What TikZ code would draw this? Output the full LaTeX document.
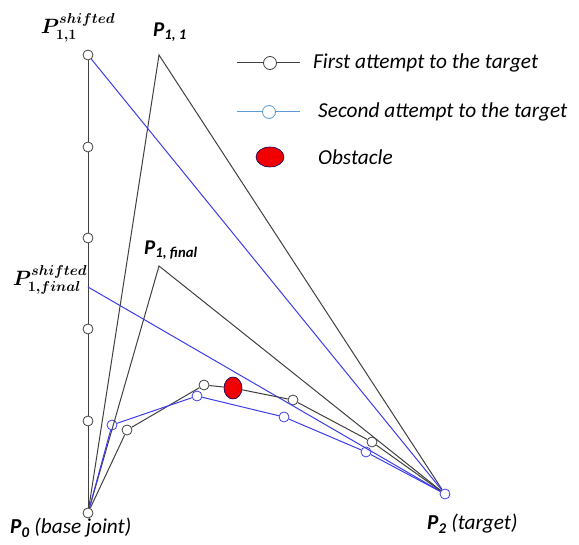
\documentclass[tikz,border=0pt]{standalone}
\usepackage{amsmath,bm}
\usepackage{fontspec}
\setmainfont{Carlito}
\usetikzlibrary{positioning,calc,shapes.geometric}
\definecolor{ArmGray}{RGB}{64,64,64}
\definecolor{ArmBlue}{RGB}{60,60,235}
\definecolor{KeyBlue}{RGB}{91,155,213}
\definecolor{ObsRed}{RGB}{240,0,0}
\tikzset{
	jnt/.style={circle,draw=ArmGray,fill=white,inner sep=0pt,minimum size=10pt,line width=0.8pt},
	bjnt/.style={jnt,draw=ArmBlue},
	first/.style={draw=ArmGray,line width=1pt},
	second/.style={draw=ArmBlue,line width=1pt},
	obst/.style={ellipse,draw=black!60!blue,fill=ObsRed,inner sep=0pt,line width=0.6pt},
	lbl/.style={font=\bfseries\itshape\fontsize{21}{24}\selectfont,inner sep=0pt},
	mlbl/.style={font=\fontsize{20}{22}\selectfont,inner sep=0pt},
	key/.style={font=\itshape\fontsize{21.3}{24}\selectfont,anchor=west,inner sep=0pt},
}

\begin{document}
\begin{tikzpicture}[x=1pt,y=-1pt]
	\useasboundingbox (0,0) rectangle (579,545);
	% joints and targets
	\coordinate (p11) at (159,55);
	\coordinate (p1f) at (159,266);
	\coordinate (p1fs) at (88,287);
	\node[jnt] (p0) at (88,513) {};
	\node[bjnt] (p2) at (445,494) {};
	\foreach \n/\y in {v1/421,v2/329,v3/238,v4/147,p11s/55}
		\node[jnt] (\n) at (88,\y) {};
	\foreach \n/\x/\y in {a1/127/430,a2/204/385,a3/293/400,a4/372/442}
		\node[jnt] (\n) at (\x,\y) {};
	\foreach \n/\x/\y in {b1/112/425,b2/197/396,b3/284/417,b4/366/452}
		\node[bjnt] (\n) at (\x,\y) {};
	\node[obst,minimum width=18pt,minimum height=22pt] (obs) at (233,388) {};
	% arm lines
	\draw[first] (p0) -- (v1) -- (v2) -- (v3) -- (v4) -- (p11s);
	\draw[first] (p0) -- (p11) -- (p2);
	\draw[first] (p0) -- (p1f) -- (p2);
	\draw[second] (p11s) -- (p2);
	\draw[second] (p1fs) -- (p2);
	\draw[first] (p0) -- (a1) -- (a2) -- (obs) -- (a3) -- (a4) -- (p2);
	\draw[second] (p0) -- (b1) -- (b2) -- (b3) -- (b4) -- (p2);
	% labels
	\node[mlbl] (l11s) at (78,28) {$\bm{P^{shifted}_{1,1}}$};
	\node[lbl] (l11) at (170,32) {P\textsubscript{1, 1}};
	\node[lbl] (l1f) at (171,250) {P\textsubscript{1, final}};
	\node[mlbl] (l1fs) at (50,280) {$\bm{P^{shifted}_{1,final}}$};
	\node[key] (l0) at (10,528) {\textbf{P\textsubscript{0}} (base joint)};
	\node[key] (l2) at (427,524) {\textbf{P\textsubscript{2}} (target)};
	% legend
	\coordinate (k1a) at (237,63);
	\coordinate (k1b) at (300,63);
	\node[jnt,minimum size=13pt] (k1) at (270,63) {};
	\draw[first] (k1a) -- (k1) -- (k1b);
	\node[key] (t1) at (313,63) {First attempt to the target};
	\coordinate (k2a) at (237,112);
	\coordinate (k2b) at (300,112);
	\node[jnt,draw=KeyBlue,minimum size=13pt] (k2) at (269,112) {};
	\draw[draw=KeyBlue,line width=1pt] (k2a) -- (k2) -- (k2b);
	\node[key] (t2) at (318,112) {Second attempt to the target};
	\node[obst,minimum width=28pt,minimum height=20pt] (k3) at (270,157) {};
	\node[key] (t3) at (318,157) {Obstacle};
\end{tikzpicture}
\end{document}
